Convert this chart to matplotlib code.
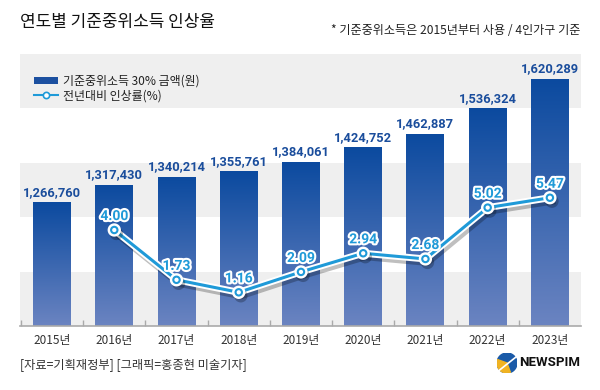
import matplotlib
matplotlib.use("Agg")
import matplotlib.pyplot as plt
import matplotlib.patheffects as pe
from matplotlib.patches import Patch, Rectangle, Circle, Wedge
from matplotlib.lines import Line2D
from matplotlib.colors import LinearSegmentedColormap
import numpy as np

years = ["2015년", "2016년", "2017년", "2018년", "2019년", "2020년", "2021년", "2022년", "2023년"]
amounts = [1266760, 1317430, 1340214, 1355761, 1384061, 1424752, 1462887, 1536324, 1620289]
rate_years = ["2016년", "2017년", "2018년", "2019년", "2020년", "2021년", "2022년", "2023년"]
rates = [4.00, 1.73, 1.16, 2.09, 2.94, 2.68, 5.02, 5.47]

title = "연도별 기준중위소득 인상율"
note = "* 기준중위소득은 2015년부터 사용 / 4인가구 기준"
source = "[자료=기획재정부] [그래픽=홍종현 미술기자]"
legend_labels = ["기준중위소득 30% 금액(원)", "전년대비 인상률(%)"]

KR = ["Noto Sans CJK KR", "DejaVu Sans"]
NUM = ["Roboto", "DejaVu Sans"]
BAR_DARK = "#0b4a9f"
BAR_LIGHT = "#6b84c1"
LINE_C = "#1f9ad8"

fig = plt.figure(figsize=(6, 3.9), dpi=100)
fig.patch.set_facecolor("white")
ax = fig.add_axes([20/600, 1-326/390, 561/600, 272/390])
ax.set_xlim(-0.515, 8.5)
ax.set_ylim(913000, 1692000)

# background bands
for i in range(5):
    col = "#efefef" if i % 2 == 0 else "white"
    ax.add_patch(Rectangle((0, 1 - (i+1)/5), 1, 1/5, transform=ax.transAxes,
                           facecolor=col, edgecolor="none", zorder=0))

x = np.arange(len(years))
bars = ax.bar(x, amounts, width=0.61, bottom=0, color="none", zorder=2)
grad = np.linspace(1, 0, 256).reshape(-1, 1)
cmap = LinearSegmentedColormap.from_list("g", [BAR_LIGHT, BAR_DARK])
ylo = 913000
for b, v in zip(bars, amounts):
    x0 = b.get_x(); w = b.get_width()
    im = ax.imshow(grad, extent=[x0, x0+w, ylo, v], aspect="auto", cmap=cmap,
                   vmin=0, vmax=1, zorder=2, origin="upper")
    im.set_clip_path(b)
    ax.annotate(f"{v:,}", (b.get_x()+w/2, v), xytext=(0, 2.5), textcoords="offset points",
                ha="center", va="bottom", fontsize=9.3, fontweight="bold",
                color="#1a4d9c", family=NUM, zorder=5)
ax.set_xlim(-0.515, 8.5)
ax.set_ylim(913000, 1692000)

for s in ["top", "right", "left"]:
    ax.spines[s].set_visible(False)
ax.spines["bottom"].set_color("#aaaaaa")
ax.spines["bottom"].set_linewidth(1.2)
ax.set_yticks([])
ax.set_xticks(x)
ax.set_xticklabels(years, family=KR, fontsize=8.5, color="#333333")
ax.tick_params(axis="x", which="major", length=0, pad=6)
ax.set_xticks(np.arange(-0.5, 8.5, 1.0), minor=True)
ax.tick_params(axis="x", which="minor", direction="in", length=4, color="#aaaaaa", width=1)

ax2 = ax.twinx()
ax2.set_ylim(-0.375, 12.02)
ax2.set_axis_off()
xr = x[1:]
ln, = ax2.plot(xr, rates, color=LINE_C, lw=2.2, marker="o", ms=4.6, mfc="white",
               mec=LINE_C, mew=1.5, zorder=4,
               path_effects=[pe.SimpleLineShadow(offset=(1.5, -2.5), shadow_color="#000000", alpha=0.25, linewidth=5),
                             pe.Stroke(linewidth=5, foreground="white"), pe.Normal()])
for xi, r in zip(xr, rates):
    ax2.annotate(f"{r:.2f}", (xi, r), xytext=(0, 5), textcoords="offset points",
                 ha="center", va="bottom", fontsize=10, fontweight="bold", color=LINE_C,
                 family=NUM, zorder=6,
                 path_effects=[pe.Stroke(linewidth=3, foreground="white"), pe.Normal()])

# legend
handles = [Patch(facecolor="#1c50a0", edgecolor="none"),
           Line2D([0], [0], color=LINE_C, lw=1.5, marker="o", ms=4.5, mfc="white", mec=LINE_C, mew=1.2)]
leg = ax2.legend(handles, legend_labels, loc="upper left", bbox_to_anchor=(0.012, 0.95),
                 frameon=False, prop={"family": KR, "size": 8.6}, handlelength=2.0,
                 handleheight=0.55, handletextpad=0.4, labelspacing=0.12, borderaxespad=0.2)
for t in leg.get_texts():
    t.set_color("#222222")

fig.text(20/600, 1-22/390, title, family=KR, fontsize=12.2, fontweight=500, color="#111111", va="center", ha="left")
fig.text(580/600, 1-30/390, note, family=KR, fontsize=8.7, color="#222222", va="center", ha="right")
fig.text(20/600, 1-366/390, source, family=KR, fontsize=8.8, color="#333333", va="center", ha="left")

# logo
lax = fig.add_axes([497/600, 1-373/390, 20/600, 20/390])
lax.set_xlim(-1, 1); lax.set_ylim(-1, 1); lax.set_aspect("equal"); lax.axis("off")
lax.add_patch(Circle((0, 0), 1, color="#1a5aa8"))
lax.add_patch(Wedge((0, 0), 1, 160, 290, color="#f0b323"))
lax.plot([-0.8, 0.9], [-0.75, 0.6], color="white", lw=1.2)
fig.text(519/600, 1-363/390, "NEWSPIM", family=NUM, fontsize=9.5, fontweight="bold",
         color="#111111", va="center", ha="left")

fig.savefig("out.png", dpi=100)
